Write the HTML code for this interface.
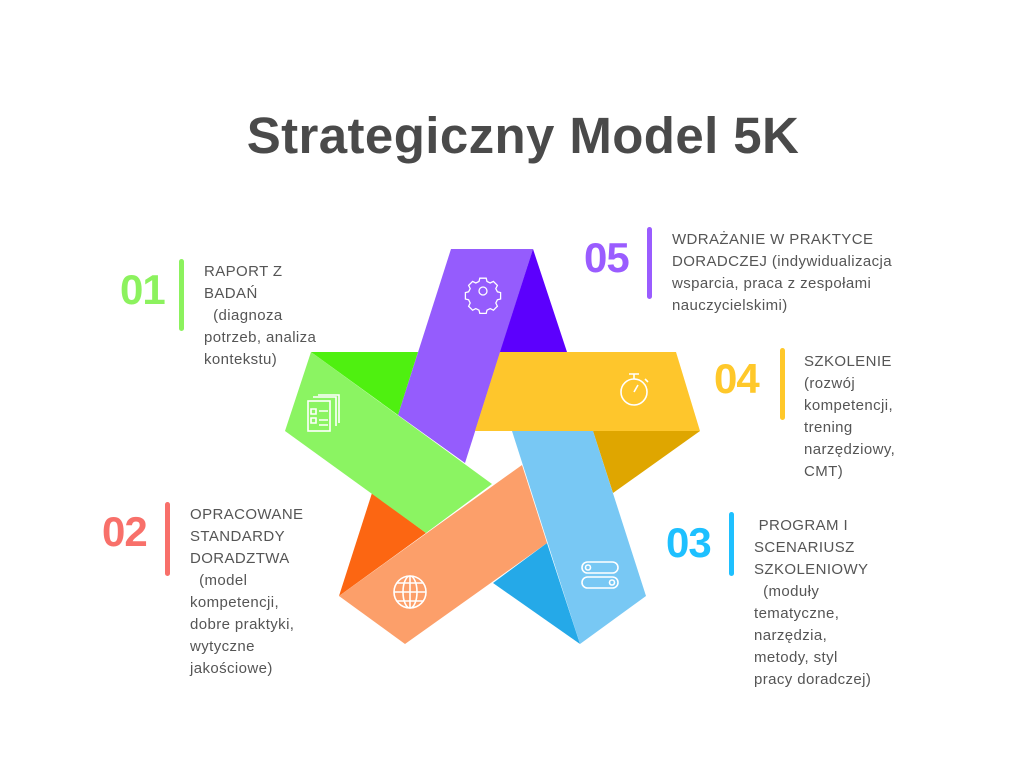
<!DOCTYPE html>
<html><head><meta charset="utf-8"><style>
body{margin:0;width:1024px;height:768px;background:#fff;position:relative;overflow:hidden;font-family:"Liberation Sans",sans-serif}
.t{position:absolute;left:0;width:1046px;top:106px;text-align:center;font-size:51px;font-weight:bold;color:#4a4a4a;letter-spacing:0.4px}
.n{position:absolute;font-weight:bold;font-size:42px;line-height:41px;letter-spacing:-1px}
.b{position:absolute;width:5px;border-radius:3px}
.x{position:absolute;font-size:15px;line-height:22px;color:#555;white-space:pre;letter-spacing:0.4px}
</style></head><body>
<div class="t">Strategiczny Model 5K</div>
<svg width="1024" height="768" style="position:absolute;left:0;top:0">
<polygon points="451,249 533,249 465,463 398,415" fill="#955cfd"/>
<polygon points="533,249 567,352 500,352" fill="#5c00fd"/>
<polygon points="311,352 418,352 398,415" fill="#4ff010"/>
<polygon points="593,431 700,431 613,493" fill="#dfa600"/>
<polygon points="547,543 580,644 493,583" fill="#25a9e8"/>
<polygon points="339,596 372,493 426,533" fill="#fc6612"/>
<polygon points="500,352 676,352 700,431 475,431" fill="#fec62c"/>
<polygon points="512,431 593,431 646,596 580,644" fill="#78c8f4"/>
<polygon points="339,596 522,465 547,543 405,644" fill="#fc9f6a"/>
<polygon points="311,352 492,484 426,533 285,431" fill="#8bf462"/>
<g fill="none" stroke="#fff" stroke-width="1.6">
<g transform="translate(483,291) scale(0.8) translate(-483,-291)">
<circle cx="483" cy="291" r="5"/>
<path d="M479,275h8l1,4 4,2 4,-2 5,5 -2,4 2,4 4,1v8l-4,1 -2,4 2,4 -5,5 -4,-2 -4,2 -1,4h-8l-1,-4 -4,-2 -4,2 -5,-5 2,-4 -2,-4 -4,-1v-8l4,-1 2,-4 -2,-4 5,-5 4,2 4,-2z"/>
</g>
<circle cx="634" cy="392" r="13"/>
<path d="M629,374h10M634,374v5M645,379l3,3M634,392l4,-7"/>
<rect x="582" y="562" width="36" height="11" rx="5.5"/>
<rect x="582" y="577" width="36" height="11" rx="5.5"/>
<circle cx="588" cy="567.5" r="2.5"/><circle cx="612" cy="582.5" r="2.5"/>
<circle cx="410" cy="592" r="16"/>
<ellipse cx="410" cy="592" rx="7" ry="16"/>
<path d="M394,592h32M410,576v32M397,583h26M397,601h26"/>
<rect x="308" y="401" width="22" height="30"/>
<path d="M313,397h23v29M318,395h21v28M311,409h5v5h-5zM311,418h5v5h-5zM319,411h9M319,420h9M319,425h9"/>
</g>
</svg>
<div class="n" style="left:120px;top:269px;color:#8cf25e">01</div>
<div class="b" style="left:179px;top:259px;height:72px;background:#8cf25e"></div>
<div class="x" style="left:204px;top:261px">RAPORT Z
BADAŃ
  (diagnoza
potrzeb, analiza
kontekstu)</div>
<div class="n" style="left:584px;top:237px;color:#9a5cff">05</div>
<div class="b" style="left:647px;top:227px;height:72px;background:#9a5cff"></div>
<div class="x" style="left:672px;top:229px">WDRAŻANIE W PRAKTYCE
DORADCZEJ (indywidualizacja
wsparcia, praca z zespołami
nauczycielskimi)</div>
<div class="n" style="left:714px;top:358px;color:#ffc82a">04</div>
<div class="b" style="left:780px;top:348px;height:72px;background:#ffc82a"></div>
<div class="x" style="left:804px;top:351px">SZKOLENIE
(rozwój
kompetencji,
trening
narzędziowy,
CMT)</div>
<div class="n" style="left:666px;top:522px;color:#1ec0ff">03</div>
<div class="b" style="left:729px;top:512px;height:64px;background:#1ec0ff"></div>
<div class="x" style="left:754px;top:515px"> PROGRAM I
SCENARIUSZ
SZKOLENIOWY
  (moduły
tematyczne,
narzędzia,
metody, styl
pracy doradczej)</div>
<div class="n" style="left:102px;top:511px;color:#f8706a">02</div>
<div class="b" style="left:165px;top:502px;height:74px;background:#f8706a"></div>
<div class="x" style="left:190px;top:504px">OPRACOWANE
STANDARDY
DORADZTWA
  (model
kompetencji,
dobre praktyki,
wytyczne
jakościowe)</div>
</body></html>
